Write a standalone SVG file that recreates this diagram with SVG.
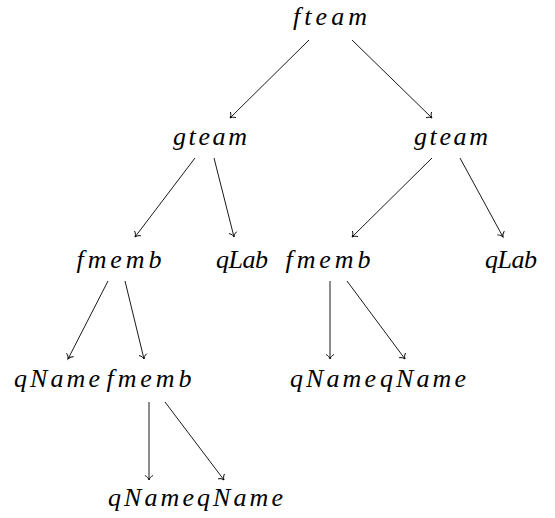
<svg xmlns="http://www.w3.org/2000/svg" width="555" height="518" viewBox="0 0 555 518">
<defs>
<style>
text{font-family:"Liberation Serif","Times New Roman",serif;font-style:italic;font-size:26px;fill:#000;text-anchor:middle}
.e{stroke:#000;stroke-width:0.9;fill:none;marker-end:url(#to)}
</style>
<marker id="to" markerUnits="userSpaceOnUse" viewBox="-6 -5 8 10" refX="0" refY="0" markerWidth="8" markerHeight="10" orient="auto">
<path d="M-4.5,-4 C-3.4,-1.4 -1,-0.3 0,0 C-1,0.3 -3.4,1.4 -4.5,4" fill="none" stroke="#000" stroke-width="0.9"/>
</marker>
</defs>
<rect width="555" height="518" fill="#fff"/>
<g id="edges">
<line class="e" x1="309" y1="40" x2="230" y2="118"/>
<line class="e" x1="352" y1="40" x2="432" y2="118"/>
<line class="e" x1="195" y1="158" x2="135" y2="237"/>
<line class="e" x1="214" y1="158" x2="234" y2="237"/>
<line class="e" x1="432" y1="158" x2="352" y2="237"/>
<line class="e" x1="460" y1="158" x2="503" y2="237"/>
<line class="e" x1="108" y1="281" x2="68" y2="359"/>
<line class="e" x1="125" y1="281" x2="144" y2="359"/>
<line class="e" x1="330" y1="281" x2="330" y2="359"/>
<line class="e" x1="347" y1="281" x2="405" y2="359"/>
<line class="e" x1="149" y1="402" x2="149" y2="480"/>
<line class="e" x1="165" y1="402" x2="224" y2="480"/>
</g>
<g id="n1"><text x="330" y="25" textLength="74" lengthAdjust="spacing">fteam</text></g>
<g id="n2"><text x="210" y="145" textLength="74" lengthAdjust="spacing">gteam</text></g>
<g id="n3"><text x="451" y="145" textLength="74" lengthAdjust="spacing">gteam</text></g>
<g id="n4"><text x="119" y="268" textLength="85" lengthAdjust="spacing">fmemb</text></g>
<g id="n5"><text x="242" y="268" textLength="52" lengthAdjust="spacing">qLab</text></g>
<g id="n6"><text x="328" y="268" textLength="85" lengthAdjust="spacing">fmemb</text></g>
<g id="n7"><text x="511" y="268" textLength="52" lengthAdjust="spacing">qLab</text></g>
<g id="n8"><text x="57" y="387" textLength="86" lengthAdjust="spacing">qName</text></g>
<g id="n9"><text x="149" y="387" textLength="85" lengthAdjust="spacing">fmemb</text></g>
<g id="n10"><text x="333" y="387" textLength="86" lengthAdjust="spacing">qName</text></g>
<g id="n11"><text x="423" y="387" textLength="86" lengthAdjust="spacing">qName</text></g>
<g id="n12"><text x="151" y="506" textLength="86" lengthAdjust="spacing">qName</text></g>
<g id="n13"><text x="240" y="506" textLength="86" lengthAdjust="spacing">qName</text></g>
</svg>
